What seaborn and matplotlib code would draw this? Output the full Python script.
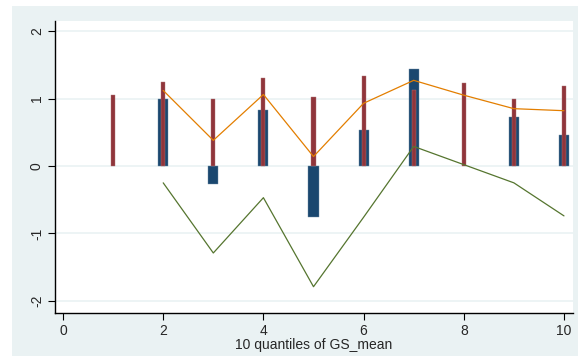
"""
Quantile bar/line chart (Stata s2color look) rebuilt with seaborn.
"""

import matplotlib
matplotlib.use("Agg")
import matplotlib.pyplot as plt
import pandas as pd
import seaborn as sns
from matplotlib.patches import Rectangle

# quantile positions
quantiles = [1, 2, 3, 4, 5, 6, 7, 8, 9, 10]
red_vals = [1.05, 1.24, 1.00, 1.30, 1.02, 1.33, 1.13, 1.23, 0.99, 1.19]

blue_q = [2, 3, 4, 5, 6, 7, 9, 10]
blue_vals = [1.00, -0.26, 0.83, -0.75, 0.53, 1.44, 0.72, 0.46]

line_q = [2, 3, 4, 5, 6, 7, 8, 9, 10]
orange_vals = [1.12, 0.38, 1.06, 0.14, 0.93, 1.27, 1.05, 0.85, 0.82]
green_vals = [-0.25, -1.29, -0.47, -1.79, -0.76, 0.29, 0.02, -0.25, -0.74]

y_ticks = [-2, -1, 0, 1, 2]
x_ticks = [0, 2, 4, 6, 8, 10]

NAVY = "#1a476f"
MAROON = "#90353b"
GREEN = "#55752f"
ORANGE = "#e37e00"
BG = "#eaf2f3"

sns.set_style("white")
plt.rcParams["font.family"] = ["Liberation Sans", "DejaVu Sans"]

fig = plt.figure(figsize=(5.78, 3.56), dpi=100)
fig.patches.append(Rectangle((12 / 578, 0), 1, 350 / 356, transform=fig.transFigure,
                             facecolor=BG, edgecolor="none", zorder=-10))
ax = fig.add_axes([55 / 578, 43 / 356, 518 / 578, 292 / 356])
ax.set_facecolor("white")

for y in y_ticks:
    ax.axhline(y, color=BG, lw=1.2, zorder=0)

blue_df = pd.DataFrame({"q": blue_q, "v": blue_vals})
red_df = pd.DataFrame({"q": quantiles, "v": red_vals})
sns.barplot(data=blue_df, x="q", y="v", native_scale=True, width=0.2,
            color=NAVY, saturation=1, edgecolor="#6f8ca5", linewidth=0.3, ax=ax, zorder=2)
sns.barplot(data=red_df, x="q", y="v", native_scale=True, width=0.08,
            color=MAROON, saturation=1, edgecolor="#b07478", linewidth=0.3, ax=ax, zorder=3)

line_df = pd.DataFrame({"q": line_q, "orange": orange_vals, "green": green_vals})
sns.lineplot(data=line_df, x="q", y="orange", color=ORANGE, lw=0.9, ax=ax, zorder=4)
sns.lineplot(data=line_df, x="q", y="green", color=GREEN, lw=0.9, ax=ax, zorder=4)

ax.set_xlim(-0.16, 10.18)
ax.set_ylim(-2.18, 2.15)
ax.set_xticks(x_ticks)
ax.set_yticks(y_ticks)
ax.set_yticklabels([str(t) for t in y_ticks], rotation=90, va="center")
ax.tick_params(axis="both", direction="out", length=5, width=0.8, color="black",
               labelsize=10, pad=3, left=True, bottom=True)
for side in ["top", "right"]:
    ax.spines[side].set_visible(False)
for side in ["left", "bottom"]:
    ax.spines[side].set_color("black")
    ax.spines[side].set_linewidth(1.0)

ax.set_ylabel("")
ax.set_xlabel("10 quantiles of GS_mean", fontsize=10, labelpad=0)

fig.savefig("out.png", dpi=100, facecolor="white")
